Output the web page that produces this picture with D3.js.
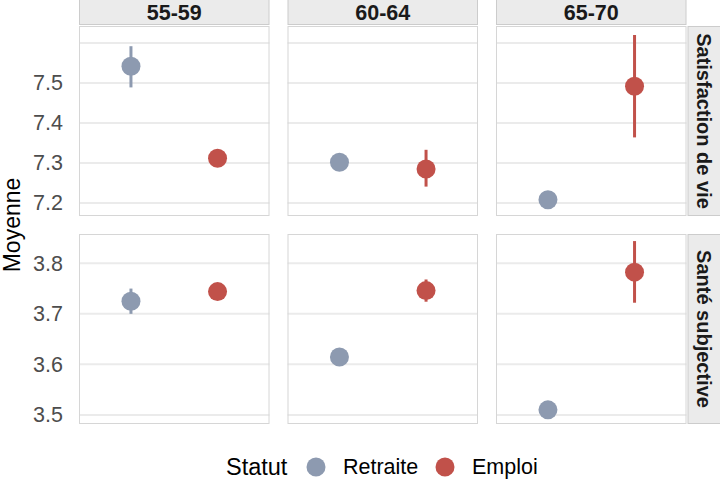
<!DOCTYPE html>
<html>
<head>
<meta charset="utf-8">
<script src="https://cdn.jsdelivr.net/npm/d3@7"></script>
<style>
  body { margin: 0; background: #fff; }
  svg { font-family: "Liberation Sans", Arial, Helvetica, sans-serif; display: block; }
</style>
</head>
<body>
<svg id="chart" width="720" height="495"></svg>
<script>
// --- data ---
const ages = ["55-59", "60-64", "65-70"];
const statuts = ["Retraite", "Emploi"];
const measures = ["Satisfaction de vie", "Santé subjective"];

// means per age group
const satRetraite = [7.542, 7.302, 7.208];
const satEmploi = [7.312, 7.285, 7.492];
const santeRetraite = [3.725, 3.6145, 3.51];
const santeEmploi = [3.744, 3.746, 3.7825];

// interval bounds per age group
const satRetraiteLo = [7.489, 7.296, 7.202];
const satRetraiteHi = [7.592, 7.308, 7.214];
const satEmploiLo = [7.303, 7.241, 7.364];
const satEmploiHi = [7.321, 7.333, 7.62];
const santeRetraiteLo = [3.7, 3.608, 3.504];
const santeRetraiteHi = [3.75, 3.621, 3.516];
const santeEmploiLo = [3.737, 3.724, 3.722];
const santeEmploiHi = [3.751, 3.768, 3.844];

// axis
const satDomain = [7.1675, 7.6425];
const santeDomain = [3.482, 3.858];
const satTicks = [7.2, 7.3, 7.4, 7.5];
const satGrid = [7.2, 7.3, 7.4, 7.5, 7.6];
const santeTicks = [3.5, 3.6, 3.7, 3.8];

const colors = { Retraite: "#8d9ab0", Emploi: "#c1514a" };

// build rows for drawing
const series = [
  { measure: measures[0], statut: "Retraite", m: satRetraite, lo: satRetraiteLo, hi: satRetraiteHi },
  { measure: measures[0], statut: "Emploi", m: satEmploi, lo: satEmploiLo, hi: satEmploiHi },
  { measure: measures[1], statut: "Retraite", m: santeRetraite, lo: santeRetraiteLo, hi: santeRetraiteHi },
  { measure: measures[1], statut: "Emploi", m: santeEmploi, lo: santeEmploiLo, hi: santeEmploiHi }
];
const rows = [];
series.forEach(s => ages.forEach((a, i) => rows.push({
  measure: s.measure, statut: s.statut, age: a, mean: s.m[i], lo: s.lo[i], hi: s.hi[i]
})));

const svg = d3.select("#chart");

// --- layout ---
const pLeft = 79, pRight = 686.5, pTop = 26, pBottom = 424;
const colGap = 18, rowGap = 18;
const panelW = (pRight - pLeft - 2 * colGap) / 3;
const panelH = (pBottom - pTop - rowGap) / 2;

const colScale = d3.scaleBand().domain(ages).range([pLeft, pRight]).paddingInner(colGap / (panelW + colGap));
const rowScale = d3.scaleBand().domain(measures).range([pTop, pBottom]).paddingInner(rowGap / (panelH + rowGap));

const yScales = {
  [measures[0]]: d3.scaleLinear().domain(satDomain).range([panelH, 0]),
  [measures[1]]: d3.scaleLinear().domain(santeDomain).range([panelH, 0])
};
const gridVals = { [measures[0]]: satGrid, [measures[1]]: santeTicks };
const tickVals = { [measures[0]]: satTicks, [measures[1]]: santeTicks };

// discrete x inside a panel, ggplot style expansion of 0.6
const xScale = d3.scaleLinear().domain([0.4, 2.6]).range([0, colScale.bandwidth()]);
const xPos = s => xScale(statuts.indexOf(s) + 1);

// --- panels ---
measures.forEach(meas => {
  const y = yScales[meas];
  ages.forEach(age => {
    const g = svg.append("g")
      .attr("transform", `translate(${colScale(age)}, ${rowScale(meas)})`);

    g.append("rect")
      .attr("width", colScale.bandwidth())
      .attr("height", rowScale.bandwidth())
      .attr("fill", "#fff");

    g.selectAll("line.grid")
      .data(gridVals[meas])
      .enter()
      .append("line")
      .attr("class", "grid")
      .attr("x1", 0)
      .attr("x2", colScale.bandwidth())
      .attr("y1", d => y(d))
      .attr("y2", d => y(d))
      .attr("stroke", "#ebebeb")
      .attr("stroke-width", 2);

    const pts = rows.filter(r => r.measure === meas && r.age === age);

    g.selectAll("line.err")
      .data(pts)
      .enter()
      .append("line")
      .attr("class", "err")
      .attr("x1", d => xPos(d.statut))
      .attr("x2", d => xPos(d.statut))
      .attr("y1", d => y(d.lo))
      .attr("y2", d => y(d.hi))
      .attr("stroke", d => colors[d.statut])
      .attr("stroke-width", 3);

    g.selectAll("circle")
      .data(pts)
      .enter()
      .append("circle")
      .attr("cx", d => xPos(d.statut))
      .attr("cy", d => y(d.mean))
      .attr("r", 9.5)
      .attr("fill", d => colors[d.statut]);

    g.append("rect")
      .attr("x", 0.5)
      .attr("y", 0.5)
      .attr("width", colScale.bandwidth() - 1)
      .attr("height", rowScale.bandwidth() - 1)
      .attr("fill", "none")
      .attr("stroke", "#d6d6d6")
      .attr("stroke-width", 1);
  });

  // y axis labels (left column only)
  const axis = svg.append("g")
    .attr("transform", `translate(${pLeft}, ${rowScale(meas)})`)
    .call(d3.axisLeft(y).tickValues(tickVals[meas]).tickSize(0).tickPadding(16).tickFormat(d3.format(".1f")));
  axis.select(".domain").remove();
  axis.selectAll("text")
    .style("font-size", "21.5px")
    .style("fill", "#4d4d4d")
    .style("font-family", "Liberation Sans, Arial, sans-serif");

  // right strip
  const sx = pRight + 1, sw = 720 - pRight;
  const sg = svg.append("g").attr("transform", `translate(${sx}, ${rowScale(meas)})`);
  sg.append("rect")
    .attr("x", 0.5).attr("y", 0.5)
    .attr("width", sw).attr("height", rowScale.bandwidth() - 1)
    .attr("fill", "#ebebeb").attr("stroke", "#cccccc");
  sg.append("text")
    .attr("transform", `translate(${sw / 2 - 0.5}, ${rowScale.bandwidth() / 2}) rotate(90)`)
    .attr("text-anchor", "middle")
    .attr("dominant-baseline", "central")
    .style("font-size", "20px")
    .style("font-weight", "bold")
    .style("fill", "#1a1a1a")
    .text(meas);
});

// top strips
ages.forEach(age => {
  const sg = svg.append("g").attr("transform", `translate(${colScale(age)}, 0)`);
  sg.append("rect")
    .attr("x", 0.5).attr("y", -1)
    .attr("width", colScale.bandwidth() - 1).attr("height", pTop - 0.5)
    .attr("fill", "#ebebeb").attr("stroke", "#cccccc");
  sg.append("text")
    .attr("x", colScale.bandwidth() / 2)
    .attr("y", 13)
    .attr("text-anchor", "middle")
    .attr("dominant-baseline", "central")
    .style("font-size", "21.5px")
    .style("font-weight", "bold")
    .style("fill", "#1a1a1a")
    .text(age);
});

// y title
svg.append("text")
  .attr("transform", `translate(19.5, ${(pTop + pBottom) / 2}) rotate(-90)`)
  .attr("text-anchor", "middle")
  .style("font-size", "23px")
  .style("fill", "#000")
  .text("Moyenne");

// legend
const legY = 467;
const leg = svg.append("g");
leg.append("text")
  .attr("x", 226).attr("y", legY)
  .attr("dominant-baseline", "central")
  .style("font-size", "23.5px")
  .text("Statut");
const legX = { Retraite: 316, Emploi: 445 };
statuts.forEach(s => {
  leg.append("circle")
    .attr("cx", legX[s]).attr("cy", legY)
    .attr("r", 9.5).attr("fill", colors[s]);
  leg.append("text")
    .attr("x", legX[s] + 27).attr("y", legY)
    .attr("dominant-baseline", "central")
    .style("font-size", "21.5px")
    .text(s);
});
</script>
</body>
</html>
